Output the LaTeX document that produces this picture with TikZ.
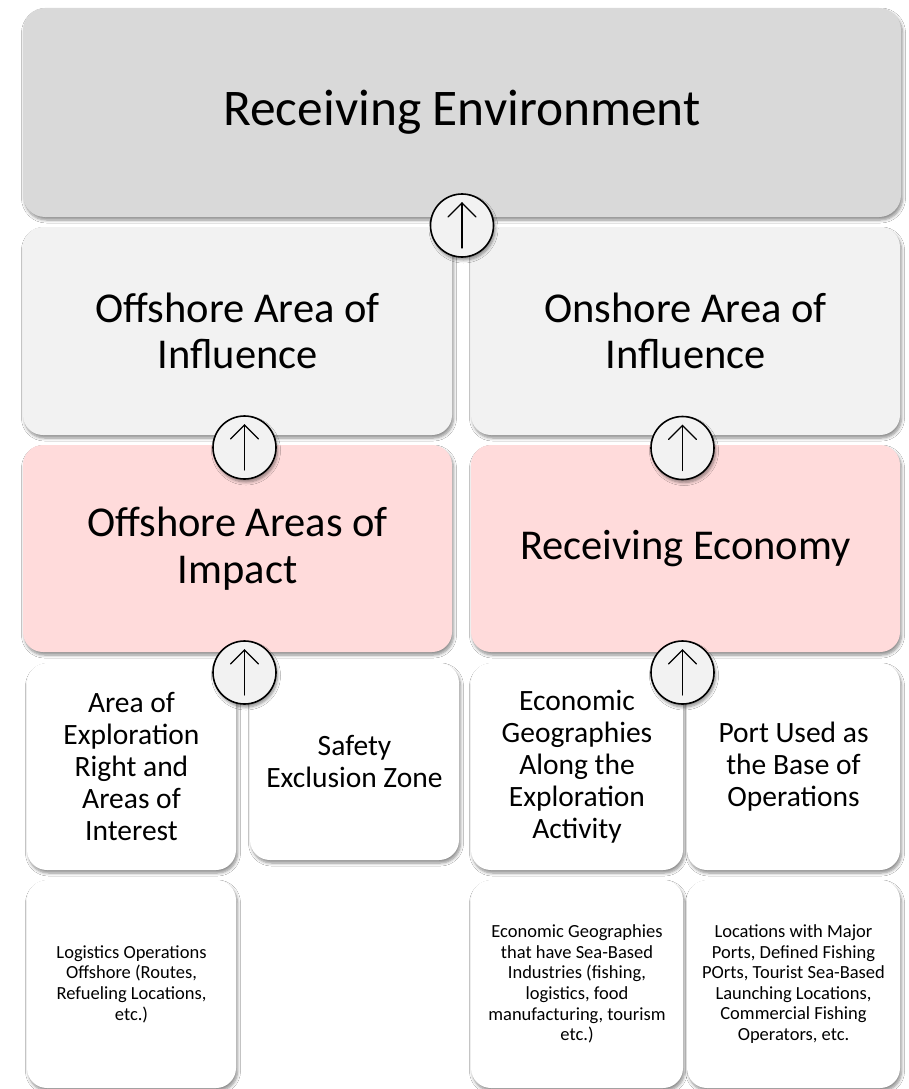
\documentclass[tikz,border=0pt]{standalone}
\usepackage{fontspec}
\setmainfont{Carlito}
\usetikzlibrary{shadows.blur}
\definecolor{envgrey}{HTML}{D9D9D9}
\definecolor{infgrey}{HTML}{F2F2F2}
\definecolor{imppink}{HTML}{FFDBDB}
\definecolor{circgrey}{HTML}{F2F2F2}
\tikzset{
  softshadow/.style={blur shadow={shadow xshift=1.5pt, shadow yshift=-3pt, shadow blur radius=3pt, shadow blur steps=6, shadow opacity=45}},
  box/.style={rectangle, rounded corners=20pt, inner sep=0pt, align=center, softshadow},
  bigtxt/.style={font=\fontsize{42.5}{46.5}\selectfont},
  midtxt/.style={font=\fontsize{29.5}{32}\selectfont},
  smalltxt/.style={font=\fontsize{18.5}{20.6}\selectfont},
  circ/.style={circle, draw=black, line width=1.6pt, fill=circgrey, minimum size=63pt, inner sep=0pt, softshadow},
  arrline/.style={line width=1.1pt, line cap=round, line join=miter}
}
\begin{document}
\begin{tikzpicture}[x=1pt,y=-1pt]
\useasboundingbox[fill=white] (0,0) rectangle (908,1089);

% top
\node[box, fill=envgrey, rounded corners=22pt, minimum width=878pt, minimum height=209pt, font=\fontsize{51.4}{56}\selectfont] (env) at (462,112.5) {Receiving Environment};

% row 2
\node[box, fill=infgrey, minimum width=429pt, minimum height=208pt, bigtxt] (offinf) at (237.5,331) {Offshore Area of\\Influence};
\node[box, fill=infgrey, minimum width=429pt, minimum height=208pt, bigtxt] (oninf) at (685.5,331) {Onshore Area of\\Influence};

% row 3
\node[box, fill=imppink, minimum width=429pt, minimum height=207pt, bigtxt] (offimp) at (237.5,548.5) {Offshore Areas of\\Impact};
\node[box, fill=imppink, minimum width=429pt, minimum height=207pt, bigtxt] (recon) at (685.5,548.5) {Receiving Economy};

% row 4
\node[box, fill=white, minimum width=209pt, minimum height=207pt, midtxt] (area) at (131.5,766.5) {Area of\\Exploration\\Right and\\Areas of\\Interest};
\node[box, fill=white, minimum width=209pt, minimum height=197pt, midtxt] (safety) at (354.5,761.5) {Safety\\Exclusion Zone};
\node[box, fill=white, minimum width=212pt, minimum height=207pt, midtxt] (econgeo) at (577,766.5) {Economic\\Geographies\\Along the\\Exploration\\Activity};
\node[box, fill=white, minimum width=213pt, minimum height=207pt, midtxt] (port) at (793.5,766.5) {Port Used as\\the Base of\\Operations};

% row 5
\node[box, fill=white, minimum width=209pt, minimum height=208pt, smalltxt] (logist) at (131.5,984) {Logistics Operations\\Offshore (Routes,\\Refueling Locations,\\etc.)};
\node[box, fill=white, minimum width=212pt, minimum height=208pt, smalltxt] (sea) at (577,984) {Economic Geographies\\that have Sea-Based\\Industries (fishing,\\logistics, food\\manufacturing, tourism\\etc.)};
\node[box, fill=white, minimum width=213pt, minimum height=208pt, smalltxt] (loc) at (793.5,984) {Locations with Major\\Ports, Defined Fishing\\POrts, Tourist Sea-Based\\Launching Locations,\\Commercial Fishing\\Operators, etc.};

% circles
\node[circ] (c1) at (462,225.5) {};
\node[circ] (c2) at (244.5,447.5) {};
\node[circ] (c3) at (682.5,448) {};
\node[circ] (c4) at (244.5,672.5) {};
\node[circ] (c5) at (682.5,672.5) {};

\foreach \c in {c1,c2,c3,c4,c5}{
  \draw[arrline] ([yshift=-22.5pt]\c.center) -- ([yshift=22.5pt]\c.center);
  \draw[arrline] ([xshift=-14pt,yshift=8.5pt]\c.center) -- ([yshift=22.5pt]\c.center) -- ([xshift=14pt,yshift=8.5pt]\c.center);
}
\end{tikzpicture}
\end{document}
